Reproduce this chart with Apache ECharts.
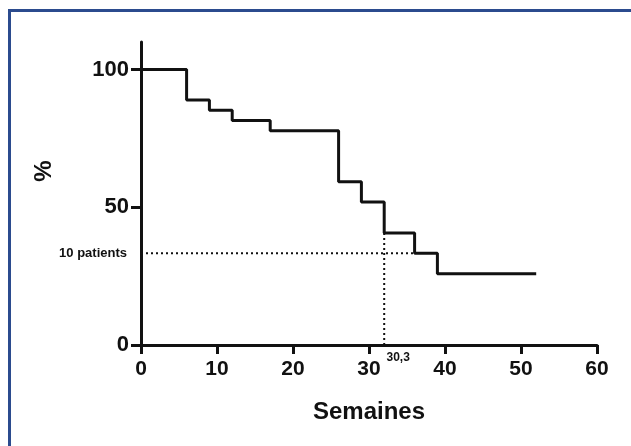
<!DOCTYPE html>
<html>
<head>
<meta charset="utf-8">
<script src="https://cdn.jsdelivr.net/npm/echarts@6/dist/echarts.min.js"></script>
<style>
  html, body { margin: 0; padding: 0; background: #fff; overflow: hidden; }
  #wrap { position: relative; width: 631px; height: 446px; }
  #main { position: absolute; left: 0; top: 0; width: 631px; height: 446px; }
  #frame {
    position: absolute; left: 8px; top: 9px; width: 640px; height: 460px;
    border-top: 3px solid #2b4b8e; border-left: 3px solid #2b4b8e;
    pointer-events: none;
  }
</style>
</head>
<body>
<div id="wrap">
  <div id="main"></div>
  <div id="frame"></div>
</div>
<script>
// courbe de survie (semaines, %)
var weeks = [0, 6, 9, 12, 17, 26, 29, 32, 36, 39, 52];
var survival = [100, 88.9, 85.2, 81.5, 77.8, 59.3, 51.9, 40.7, 33.3, 25.9, 25.9];

// lignes de repère en pointillés
var refLevel = 33.3;      // niveau "10 patients"
var refEnd = 36;          // fin de la ligne horizontale
var medianWeek = 32;      // ligne verticale
var medianTop = 40.7;
var medianLabel = '30,3';
var refLabel = '10 patients';

var xTicks = [0, 10, 20, 30, 40, 50, 60];
var yTicks = [0, 50, 100];

var chart = echarts.init(document.getElementById('main'), null, { renderer: 'canvas' });

var font = '"Liberation Sans", Arial, sans-serif';

var option = {
  backgroundColor: '#fff',
  animation: false,
  grid: {
    left: 141,
    right: 34,
    top: 42,
    bottom: 101
  },
  graphic: [{
    type: 'text',
    x: 44,
    y: 171,
    rotation: Math.PI / 2,
    style: {
      text: '%',
      font: 'bold 24px ' + font,
      fill: '#111',
      align: 'center',
      verticalAlign: 'middle'
    }
  }],
  xAxis: {
    type: 'value',
    min: 0,
    max: 60,
    interval: 10,
    name: 'Semaines',
    nameLocation: 'middle',
    nameGap: 55,
    nameTextStyle: { color: '#111', fontSize: 24, fontWeight: 'bold', fontFamily: font },
    axisLine: { show: true, onZero: false, lineStyle: { color: '#111', width: 3 } },
    axisTick: { show: true, length: 9, lineStyle: { color: '#111', width: 3 } },
    axisLabel: {
      color: '#111', fontSize: 21, fontWeight: 'bold', fontFamily: font, margin: 14,
      customValues: xTicks
    },
    splitLine: { show: false }
  },
  yAxis: {
    type: 'value',
    min: 0,
    max: 110,
    axisLine: { show: true, onZero: false, lineStyle: { color: '#111', width: 3 } },
    axisTick: { show: true, length: 10, lineStyle: { color: '#111', width: 3 }, customValues: yTicks },
    axisLabel: {
      color: '#111', fontSize: 22, fontWeight: 'bold', fontFamily: font, margin: 12,
      customValues: yTicks
    },
    splitLine: { show: false }
  },
  series: [{
    name: 'survie',
    type: 'line',
    step: 'end',
    symbol: 'none',
    lineStyle: { color: '#111', width: 3 },
    data: weeks.map(function (w, i) { return [w, survival[i]]; }),
    z: 5
  }, {
    name: 'repere',
    type: 'line',
    symbol: 'circle',
    symbolSize: 0,
    itemStyle: { color: 'transparent' },
    lineStyle: { color: '#111', width: 2, type: [2, 3] },
    label: { show: false },
    data: [{
      value: [0, refLevel],
      label: {
        show: true, position: 'left', distance: 14, formatter: refLabel,
        color: '#111', fontSize: 13, fontWeight: 'bold', fontFamily: font
      }
    }, {
      value: [refEnd, refLevel]
    }],
    z: 3
  }, {
    name: 'mediane',
    type: 'line',
    symbol: 'circle',
    symbolSize: 0,
    itemStyle: { color: 'transparent' },
    lineStyle: { color: '#111', width: 2, type: [2, 3] },
    label: { show: false },
    data: [{
      value: [medianWeek, 0],
      label: {
        show: true, position: 'inside', offset: [14, 13], formatter: medianLabel,
        color: '#111', fontSize: 12, fontWeight: 'bold', fontFamily: font
      }
    }, {
      value: [medianWeek, medianTop]
    }],
    z: 3
  }]
};

chart.setOption(option);
</script>
</body>
</html>
